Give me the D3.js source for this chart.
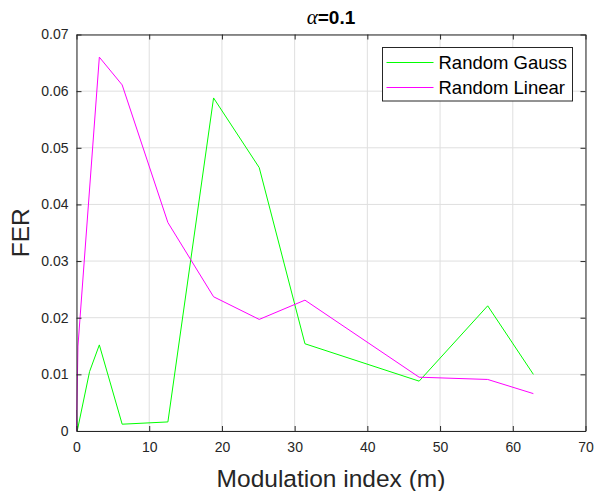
<!DOCTYPE html>
<html>
<head>
<meta charset="utf-8">
<script src="https://cdn.jsdelivr.net/npm/d3@7"></script>
<style>
  body { margin: 0; background: #fff; }
  svg { font-family: Arial, "Liberation Sans", Helvetica, sans-serif; }
</style>
</head>
<body>
<svg id="drawing_region"></svg>
<script>
// Random Gauss
const gauss_x = [0, 0.1, 1.8, 3.14, 6.28, 12.57, 18.85, 25.13, 31.42, 47.12, 56.55, 62.83];
const gauss_y = [0.0037, 0, 0.0105, 0.0152, 0.0012, 0.0016, 0.0588, 0.0465, 0.0154, 0.0088, 0.0221, 0.0100];
// Random Linear
const linear_x = [0, 0.2, 3.14, 6.28, 12.57, 18.85, 25.13, 31.42, 47.12, 56.55, 62.83];
const linear_y = [0, 0.015, 0.0660, 0.0611, 0.0368, 0.0237, 0.0197, 0.0231, 0.0095, 0.0091, 0.0066];

const x_ticks = [0, 10, 20, 30, 40, 50, 60, 70];
const y_ticks = [0, 0.01, 0.02, 0.03, 0.04, 0.05, 0.06, 0.07];
const series_names = ['Random Gauss', 'Random Linear'];
const series_colors = ['#00ff00', '#ff00ff'];

const config = {
    width: 594,
    height: 491,
    margin: {top: 34.5, right: 8.5, bottom: 60, left: 76.5}
};

const svg = d3.select('#drawing_region')
    .attr('width', config.width)
    .attr('height', config.height);

const inner_width = config.width - config.margin.left - config.margin.right;
const inner_height = config.height - config.margin.top - config.margin.bottom;

const chart = svg.append('g')
    .attr('transform', `translate(${config.margin.left}, ${config.margin.top})`);

const xscale = d3.scaleLinear().domain([0, 70]).range([0, inner_width]);
const yscale = d3.scaleLinear().domain([0, 0.07]).range([inner_height, 0]);

// grid
chart.append('g')
    .selectAll('line')
    .data(x_ticks)
    .join('line')
    .attr('x1', d => xscale(d)).attr('x2', d => xscale(d))
    .attr('y1', 0).attr('y2', inner_height)
    .attr('stroke', '#dfdfdf').attr('stroke-width', 1);

chart.append('g')
    .selectAll('line')
    .data(y_ticks)
    .join('line')
    .attr('x1', 0).attr('x2', inner_width)
    .attr('y1', d => yscale(d)).attr('y2', d => yscale(d))
    .attr('stroke', '#dfdfdf').attr('stroke-width', 1);

// lines
const line = d3.line()
    .x(d => xscale(d[0]))
    .y(d => yscale(d[1]));

const series = [
    d3.zip(gauss_x, gauss_y),
    d3.zip(linear_x, linear_y)
];

chart.append('g')
    .selectAll('path')
    .data(series)
    .join('path')
    .attr('d', d => line(d))
    .attr('fill', 'none')
    .attr('stroke', (d, i) => series_colors[i])
    .attr('stroke-width', 1);

// axes
const axis_color = '#262626';
const tick_len = 5;

const xaxis = d3.axisBottom(xscale).tickValues(x_ticks).tickSizeInner(-tick_len).tickSizeOuter(0).tickPadding(11);
const yaxis = d3.axisLeft(yscale).tickValues(y_ticks).tickSizeInner(-tick_len).tickSizeOuter(0).tickPadding(8)
    .tickFormat(d => d === 0 ? '0' : d3.format('.2f')(d));
const xaxis_top = d3.axisTop(xscale).tickValues(x_ticks).tickSizeInner(-tick_len).tickSizeOuter(0).tickFormat('');
const yaxis_right = d3.axisRight(yscale).tickValues(y_ticks).tickSizeInner(-tick_len).tickSizeOuter(0).tickFormat('');

const groups = [
    chart.append('g').attr('transform', `translate(0, ${inner_height})`).call(xaxis),
    chart.append('g').call(yaxis),
    chart.append('g').call(xaxis_top),
    chart.append('g').attr('transform', `translate(${inner_width}, 0)`).call(yaxis_right)
];

groups.forEach(g => {
    g.select('.domain').attr('stroke', axis_color);
    g.selectAll('.tick line').attr('stroke', axis_color);
    g.selectAll('.tick text')
        .attr('fill', axis_color)
        .attr('font-size', '14px')
        .attr('font-family', 'Arial, "Liberation Sans", sans-serif');
});

// axis labels
chart.append('text')
    .attr('x', inner_width / 2)
    .attr('y', inner_height + 55.5)
    .attr('text-anchor', 'middle')
    .attr('font-size', '24.5px')
    .attr('fill', axis_color)
    .text('Modulation index (m)');

chart.append('text')
    .attr('transform', `translate(-48, ${inner_height / 2}) rotate(-90)`)
    .attr('text-anchor', 'middle')
    .attr('font-size', '24.5px')
    .attr('fill', axis_color)
    .text('FER');

// title
const title = chart.append('text')
    .attr('x', inner_width / 2)
    .attr('y', -10.5)
    .attr('text-anchor', 'middle')
    .attr('font-size', '19px')
    .attr('font-weight', 'bold')
    .attr('fill', '#000');

title.append('tspan')
    .attr('font-family', '"Liberation Serif", "DejaVu Serif", serif')
    .attr('font-style', 'italic')
    .attr('font-weight', 'normal')
    .attr('font-size', '21px')
    .text('α');

title.append('tspan')
    .text('=0.1');

// legend
const legend = chart.append('g')
    .attr('transform', `translate(${382.5 - config.margin.left}, ${47.5 - config.margin.top})`);

legend.append('rect')
    .attr('width', 190)
    .attr('height', 53.5)
    .attr('fill', '#fff')
    .attr('stroke', axis_color)
    .attr('stroke-width', 1);

const items = legend.selectAll('g.item')
    .data(series_names)
    .join('g')
    .attr('class', 'item')
    .attr('transform', (d, i) => `translate(0, ${15 + i * 25})`);

items.append('line')
    .attr('x1', 4).attr('x2', 51)
    .attr('stroke', (d, i) => series_colors[i])
    .attr('stroke-width', 1);

items.append('text')
    .attr('x', 56)
    .attr('dy', '0.35em')
    .attr('font-size', '18.5px')
    .attr('fill', '#000')
    .text(d => d);
</script>
</body>
</html>
